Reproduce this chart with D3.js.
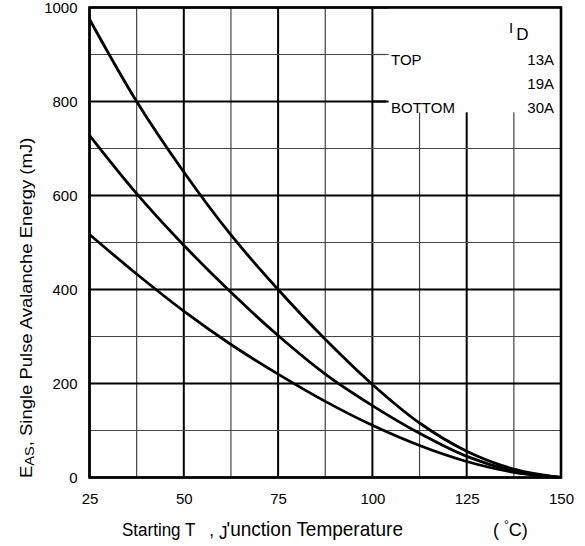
<!DOCTYPE html>
<html>
<head>
<meta charset="utf-8">
<script src="https://cdn.jsdelivr.net/npm/d3@7"></script>
<style>
  body { margin: 0; background: #fff; }
  svg text { font-family: "Liberation Sans", Arial, sans-serif; fill: #000; }
</style>
</head>
<body>
<svg id="chart"></svg>
<script>
// starting junction temperature (°C)
const temps = [25, 37.5, 50, 62.5, 75, 87.5, 100, 112.5, 125, 137.5, 150];
// avalanche energy (mJ) per drain current
const eas13A = [975, 800, 650, 516, 400, 294, 198, 116, 56, 18, 0];
const eas19A = [728, 604, 494, 394, 302, 220, 153, 94, 45, 14, 0];
const eas30A = [517, 433, 354, 283, 220, 162, 111, 68, 34, 11, 0];

const xTicks = [25, 50, 75, 100, 125, 150];
const yTicks = [0, 200, 400, 600, 800, 1000];
const legendTags = ["TOP", "", "BOTTOM"];
const legendCurrents = ["13A", "19A", "30A"];

const width = 585;
const height = 546;
const plotLeft = 89.5, plotRight = 561, plotTop = 7.5, plotBottom = 477.5;

const svg = d3.select("#chart")
    .attr("width", width)
    .attr("height", height);

const xScale = d3.scaleLinear().domain([25, 150]).range([plotLeft, plotRight]);
const yScale = d3.scaleLinear().domain([0, 1000]).range([plotBottom, plotTop]);

// grid
const g = svg.append("g");
const xGrid = d3.range(25, 150.1, 12.5);
const yGrid = d3.range(0, 1000.1, 100);

g.selectAll(".vgrid")
    .data(xGrid)
    .enter()
    .append("line")
    .attr("x1", d => xScale(d))
    .attr("x2", d => xScale(d))
    .attr("y1", plotTop)
    .attr("y2", plotBottom)
    .attr("stroke", d => (d - 25) % 25 === 0 ? "#000" : "#444")
    .attr("stroke-width", d => (d - 25) % 25 === 0 ? 2 : 1.2);

g.selectAll(".hgrid")
    .data(yGrid)
    .enter()
    .append("line")
    .attr("x1", plotLeft)
    .attr("x2", plotRight)
    .attr("y1", d => yScale(d))
    .attr("y2", d => yScale(d))
    .attr("stroke", d => d % 200 === 0 ? "#000" : "#444")
    .attr("stroke-width", d => d % 200 === 0 ? 2 : 1.2);

// legend box blanks out the grid corner
g.append("rect")
    .attr("x", xScale(104.3))
    .attr("y", plotTop)
    .attr("width", plotRight - xScale(104.3))
    .attr("height", yScale(777) - plotTop)
    .attr("fill", "#fff");

// curves
const line = d3.line()
    .x((d, i) => xScale(temps[i]))
    .y(d => yScale(d))
    .curve(d3.curveCatmullRom.alpha(0.5));

g.selectAll(".curve")
    .data([eas13A, eas19A, eas30A])
    .enter()
    .append("path")
    .attr("class", "curve")
    .attr("d", line)
    .attr("fill", "none")
    .attr("stroke", "#000")
    .attr("stroke-width", 2.8);

// frame
g.append("rect")
    .attr("x", plotLeft)
    .attr("y", plotTop)
    .attr("width", plotRight - plotLeft)
    .attr("height", plotBottom - plotTop)
    .attr("fill", "none")
    .attr("stroke", "#000")
    .attr("stroke-width", 2.6);

// axes labels
const xAxis = d3.axisBottom(xScale).tickValues(xTicks).tickSize(0).tickPadding(0);
const yAxis = d3.axisLeft(yScale).tickValues(yTicks).tickSize(0).tickPadding(0)
    .tickFormat(d3.format("d"));

const gx = svg.append("g")
    .attr("transform", `translate(0, ${plotBottom})`)
    .call(xAxis);
gx.select(".domain").remove();
gx.selectAll("text")
    .attr("font-family", null)
    .attr("dy", null)
    .attr("y", 26)
    .style("font-size", "15px");

const gy = svg.append("g")
    .attr("transform", `translate(${plotLeft - 12}, 0)`)
    .call(yAxis);
gy.select(".domain").remove();
gy.selectAll("text")
    .attr("font-family", null)
    .attr("dy", "0.36em")
    .attr("x", 0)
    .style("font-size", "15px");

// legend
const lg = svg.append("g");
const rowY = [65, 89, 113];
lg.selectAll(".tag")
    .data(legendTags)
    .enter()
    .append("text")
    .attr("x", 391)
    .attr("y", (d, i) => rowY[i])
    .style("font-size", "15px")
    .text(d => d);
lg.selectAll(".cur")
    .data(legendCurrents)
    .enter()
    .append("text")
    .attr("x", 554)
    .attr("y", (d, i) => rowY[i])
    .attr("text-anchor", "end")
    .style("font-size", "15px")
    .text(d => d);
lg.append("line")
    .attr("x1", xScale(100)).attr("x2", 386)
    .attr("y1", yScale(900)).attr("y2", yScale(900))
    .attr("stroke", "#444").attr("stroke-width", 1.2);
lg.append("line")
    .attr("x1", xScale(100)).attr("x2", 386)
    .attr("y1", yScale(800)).attr("y2", yScale(800))
    .attr("stroke", "#000").attr("stroke-width", 2);
const idText = lg.append("text")
    .attr("x", 509)
    .attr("y", 33)
    .style("font-size", "15px");
idText.append("tspan").text("I");
idText.append("tspan").attr("dx", 3).attr("dy", 7).style("font-size", "17px").text("D");

// x title
const xt = svg.append("text")
    .attr("transform", "translate(122, 536) scale(1, 1.05)")
    .style("font-size", "17px");
xt.append("tspan").text("Starting T");
xt.append("tspan").attr("dx", 14).text(",");
xt.append("tspan").attr("dx", 5).attr("dy", 3).text("J");
xt.append("tspan").attr("dx", -1).attr("dy", -3).style("font-size", "19px").text("'unction Temperature");

const unit = svg.append("text")
    .attr("transform", "translate(493, 536) scale(1, 1.05)")
    .style("font-size", "18px");
unit.append("tspan").text("(");
unit.append("tspan").attr("dx", 5).attr("dy", -7).style("font-size", "12px").text("°");
unit.append("tspan").attr("dx", 0).attr("dy", 7).text("C)");

// y title
const yt = svg.append("text")
    .attr("transform", "translate(32, 478) rotate(-90) scale(1.12, 1)")
    .style("font-size", "16.5px");
yt.append("tspan").text("E");
yt.append("tspan").attr("dy", 2).style("font-size", "13px").text("AS");
yt.append("tspan").attr("dy", -2).text(", Single Pulse Avalanche Energy (mJ)");
</script>
</body>
</html>
